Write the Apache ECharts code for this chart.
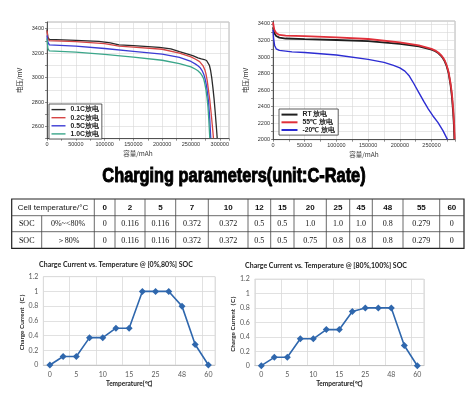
<!DOCTYPE html>
<html><head><meta charset="utf-8">
<script src="https://cdn.jsdelivr.net/npm/echarts@6/dist/echarts.min.js"></script>
<style>html,body{margin:0;padding:0;background:#fff}#c{width:466px;height:395px}</style>
</head><body><div id="c"></div>
<script>
// ---------- DATA ----------
// Top-left: discharge at different C-rates (capacity mAh, voltage mV)
const rateNames = ['0.1C放电', '0.2C放电', '0.5C放电', '1.0C放电'];
const cap01C  = [0, 1500, 4000, 50000, 90000, 110000, 125000, 150000, 195000, 215000, 230000, 253000, 262000, 268000, 273000, 277000, 280000, 282000, 284000, 286000, 288000, 290000, 292000, 294000, 295500];
const volt01C = [3395, 3330, 3312, 3305, 3296, 3285, 3268, 3262, 3248, 3235, 3213, 3180, 3162, 3153, 3148, 3140, 3125, 3100, 3060, 3000, 2920, 2830, 2720, 2600, 2505];
const cap02C  = [0, 1500, 4000, 50000, 100000, 125000, 150000, 200000, 230000, 250000, 258000, 265000, 268000, 271000, 274000, 276000, 278000, 280000, 282600, 285000, 287200, 289000];
const volt02C = [3385, 3320, 3303, 3295, 3278, 3258, 3250, 3232, 3200, 3170, 3150, 3131, 3115, 3096, 3065, 3030, 2981, 2910, 2818, 2710, 2600, 2505];
const cap05C  = [0, 1500, 4000, 50000, 100000, 150000, 200000, 230000, 250000, 258000, 262000, 266000, 269000, 272000, 274500, 277000, 279000, 280500, 282500, 284300];
const volt05C = [3345, 3290, 3268, 3258, 3238, 3215, 3192, 3165, 3132, 3110, 3097, 3080, 3060, 3030, 2990, 2930, 2860, 2800, 2670, 2505];
const cap10C  = [0, 1500, 4000, 50000, 100000, 150000, 200000, 230000, 250000, 258000, 262000, 266000, 269000, 272000, 274000, 276000, 278000, 279500, 281000, 282600];
const volt10C = [3320, 3240, 3218, 3208, 3190, 3168, 3142, 3115, 3088, 3068, 3056, 3038, 3018, 2990, 2950, 2900, 2830, 2760, 2650, 2505];

// Top-right: discharge at different temperatures
const tempNames = ['RT 放电', '55℃ 放电', '-20℃ 放电'];
const capRT   = [0, 2000, 5000, 10000, 20000, 50000, 100000, 150000, 200000, 230000, 250000, 256000, 261000, 265000, 268000, 271000, 274000, 277000, 280000, 282000, 284000, 285300, 286000];
const voltRT  = [3360, 3290, 3255, 3235, 3224, 3217, 3206, 3193, 3160, 3130, 3090, 3070, 3045, 3015, 2985, 2945, 2885, 2800, 2660, 2530, 2340, 2170, 2005];
const cap55   = [0, 2000, 5000, 10000, 20000, 50000, 100000, 150000, 200000, 230000, 250000, 256000, 261000, 265000, 268000, 271000, 274000, 277000, 280000, 282200, 284300, 285700, 286500];
const volt55  = [3420, 3330, 3290, 3267, 3260, 3254, 3238, 3218, 3178, 3140, 3098, 3078, 3052, 3024, 2994, 2955, 2898, 2815, 2680, 2550, 2360, 2180, 2005];
const capM20  = [0, 1000, 2500, 5000, 10000, 30000, 50000, 100000, 150000, 175000, 190000, 200000, 208000, 215000, 222000, 230000, 238000, 245000, 252000, 260000, 268000, 275000];
const voltM20 = [3330, 3220, 3140, 3100, 3080, 3062, 3055, 3024, 2972, 2935, 2900, 2868, 2830, 2770, 2680, 2570, 2460, 2370, 2290, 2210, 2110, 2004];

// Charging parameters (C-rate) by cell temperature
const tempLabels = ['0', '2', '5', '7', '10', '12', '15', '20', '25', '45', '48', '55', '60'];
const currentLowSoc  = [0, 0.116, 0.116, 0.372, 0.372, 0.5, 0.5, 1.0, 1.0, 1.0, 0.8, 0.279, 0];
const currentHighSoc = [0, 0.116, 0.116, 0.372, 0.372, 0.5, 0.5, 0.75, 0.8, 0.8, 0.8, 0.279, 0];
const tableHeader = 'Cell temperature/°C';
const socLabel = 'SOC';
const socLowRange = '0%~<80%';
const socHighRange = '＞80%';
const mainTitle = 'Charging parameters(unit:C-Rate)';
const lowTitle = 'Charge Current vs. Temperature @ [0%,80%] SOC';
const highTitle = 'Charge Current vs. Temperature @ [80%,100%] SOC';

// ---------- LAYOUT ----------
const colX = [11.7, 94.3, 115, 145, 175.7, 208.3, 248, 270.7, 294, 326.3, 349.7, 372.3, 403, 439.7, 464];
const rowY = [199, 215.7, 231.7, 248.3];
const socSplitX = 41.7;

function zip(xs, ys) { return xs.map((x, i) => [x, ys[i]]); }
function fmt(v) { return v === 0 ? '0' : (Number.isInteger(v) ? v.toFixed(1) : String(v)); }

const chart = echarts.init(document.getElementById('c'), null, { renderer: 'canvas' });

const topAxisLabel = { fontSize: 5.5, color: '#333', fontFamily: 'Liberation Sans', margin: 3 };
const gridLine = { show: true, lineStyle: { color: '#d6d6d6', width: 0.6 } };
const darkAxis = { show: true, lineStyle: { color: '#444', width: 0.9 } };

function topX(grid, max) {
  return {
    gridIndex: grid, type: 'value', min: 0, max: max, interval: 25000,
    axisLine: darkAxis, axisTick: { show: true, length: 2, lineStyle: { color: '#444', width: 0.6 } },
    axisLabel: Object.assign({}, topAxisLabel, { formatter: v => (v % 50000 === 0 && v <= 300000) ? String(v) : '' }),
    splitLine: gridLine,
    name: '容量/mAh', nameLocation: 'middle', nameGap: 12,
    nameTextStyle: { fontSize: 6.5, color: '#333', fontFamily: 'Noto Sans CJK SC' }
  };
}
function topY(grid, min, max) {
  return {
    gridIndex: grid, type: 'value', min: min, max: max, interval: 100,
    axisLine: darkAxis, axisTick: { show: true, length: 2, lineStyle: { color: '#444', width: 0.6 } },
    axisLabel: Object.assign({}, topAxisLabel, { formatter: v => (v % 200 === 0) ? String(v) : '' }),
    splitLine: gridLine,
    name: '电压/mV', nameLocation: 'middle', nameGap: 24, nameRotate: 90,
    nameTextStyle: { fontSize: 6.5, color: '#333', fontFamily: 'Noto Sans CJK SC' }
  };
}
const botLabel = { fontSize: 7, color: '#595959', fontFamily: 'Lato' };
function botX(grid) {
  return {
    gridIndex: grid, type: 'category', data: tempLabels, boundaryGap: true,
    axisLine: { show: true, lineStyle: { color: '#bfbfbf', width: 0.8 } },
    axisTick: { show: false },
    axisLabel: Object.assign({}, botLabel, { interval: 1, margin: 6 }),
    splitLine: { show: true, interval: 1, lineStyle: { color: '#d9d9d9', width: 0.8 } },
    name: 'Temperature(℃)', nameLocation: 'middle', nameGap: 15,
    nameTextStyle: { fontSize: 6.5, fontWeight: 'bold', color: '#222', fontFamily: 'Lato' }
  };
}
function botY(grid) {
  return {
    gridIndex: grid, type: 'value', min: 0, max: 1.2, interval: 0.2,
    axisLine: { show: false }, axisTick: { show: false },
    axisLabel: Object.assign({}, botLabel, { margin: 5 }),
    splitLine: { show: true, lineStyle: { color: '#d9d9d9', width: 0.8 } },
    name: 'Charge Current（C）', nameLocation: 'middle', nameGap: 16, nameRotate: 90,
    nameTextStyle: { fontSize: 6.3, fontWeight: 'bold', color: '#222', fontFamily: 'Lato' }
  };
}

function lineSeries(name, xi, yi, xs, ys, color, width) {
  return {
    name: name, type: 'line', xAxisIndex: xi, yAxisIndex: yi, data: zip(xs, ys),
    showSymbol: false, symbol: 'none', smooth: false,
    lineStyle: { color: color, width: width }, itemStyle: { color: color }, animation: false
  };
}
function chargeSeries(xi, yi, vals) {
  return {
    type: 'line', xAxisIndex: xi, yAxisIndex: yi, data: vals,
    symbol: 'diamond', symbolSize: 7, color: '#2f67ad',
    lineStyle: { color: '#2f67ad', width: 1.6 }, itemStyle: { color: '#2f67ad' }, animation: false
  };
}

// Table graphics
const tableEls = [];
const lineColor = '#444';
tableEls.push({ type: 'rect', shape: { x: colX[0], y: rowY[0], width: colX[colX.length - 1] - colX[0], height: rowY[3] - rowY[0] },
  style: { fill: 'none', stroke: '#222', lineWidth: 1.2 } });
for (let r = 1; r < rowY.length - 1; r++) {
  tableEls.push({ type: 'line', shape: { x1: colX[0], y1: rowY[r], x2: colX[colX.length - 1], y2: rowY[r] }, style: { stroke: lineColor, lineWidth: 0.8 } });
}
for (let c = 1; c < colX.length - 1; c++) {
  tableEls.push({ type: 'line', shape: { x1: colX[c], y1: rowY[0], x2: colX[c], y2: rowY[3] }, style: { stroke: lineColor, lineWidth: 0.8 } });
}
tableEls.push({ type: 'line', shape: { x1: socSplitX, y1: rowY[1], x2: socSplitX, y2: rowY[3] }, style: { stroke: lineColor, lineWidth: 0.8 } });
function cellText(x1, x2, r, text, font) {
  tableEls.push({ type: 'text', x: (x1 + x2) / 2, y: (rowY[r] + rowY[r + 1]) / 2 + 0.5,
    style: { text: text, align: 'center', verticalAlign: 'middle', font: font, fill: '#111' } });
}
const headFont = '8px "Liberation Sans", sans-serif';
const headNumFont = 'bold 8px "Liberation Sans", sans-serif';
const bodyFont = '8px "Liberation Serif", serif';
cellText(colX[0], colX[1], 0, tableHeader, headFont);
cellText(colX[0], socSplitX, 1, socLabel, bodyFont);
cellText(socSplitX, colX[1], 1, socLowRange, bodyFont);
cellText(colX[0], socSplitX, 2, socLabel, bodyFont);
cellText(socSplitX, colX[1], 2, socHighRange, bodyFont);
tempLabels.forEach((t, i) => {
  cellText(colX[i + 1], colX[i + 2], 0, t, headNumFont);
  cellText(colX[i + 1], colX[i + 2], 1, fmt(currentLowSoc[i]), bodyFont);
  cellText(colX[i + 1], colX[i + 2], 2, fmt(currentHighSoc[i]), bodyFont);
});

const graphics = [
  { type: 'text', x: 234, y: 177, scaleX: 0.86, scaleY: 1.02, style: { text: mainTitle, align: 'center', verticalAlign: 'middle',
      font: 'bold 19px "Liberation Sans", sans-serif', fill: '#000', stroke: '#000', lineWidth: 0.9 } },
  { type: 'text', x: 116, y: 265, style: { text: lowTitle, align: 'center', verticalAlign: 'middle',
      font: 'bold 7px Lato, sans-serif', fill: '#222' } },
  { type: 'text', x: 326, y: 265.5, style: { text: highTitle, align: 'center', verticalAlign: 'middle',
      font: 'bold 7px Lato, sans-serif', fill: '#222' } },
  { type: 'group', children: tableEls }
];

const legendBase = {
  orient: 'vertical', padding: [2, 3, 1.5, 2.5], icon: 'rect',
  borderColor: '#333', borderWidth: 0.8, backgroundColor: '#fff',
  textStyle: { fontSize: 6.8, fontWeight: 'bold', color: '#222', lineHeight: 7.2, fontFamily: 'Liberation Sans' },
  selectedMode: false
};

chart.setOption({
  backgroundColor: '#fff',
  animation: false,
  grid: [
    { left: 47, top: 22, width: 182, height: 116.7, show: true, borderColor: '#888', borderWidth: 0.6 },
    { left: 273, top: 21, width: 182, height: 118.7, show: true, borderColor: '#888', borderWidth: 0.6 },
    { left: 43.3, top: 276.7, width: 171.7, height: 88.3, show: true, borderColor: '#d9d9d9', borderWidth: 0.8 },
    { left: 254.8, top: 279, width: 169, height: 86.7, show: true, borderColor: '#d9d9d9', borderWidth: 0.8 }
  ],
  xAxis: [topX(0, 316000), topX(1, 287000), botX(2), botX(3)],
  yAxis: [topY(0, 2500, 3455), topY(1, 2000, 3436), botY(2), botY(3)],
  legend: [
    Object.assign({}, legendBase, { data: rateNames, left: 49, top: 104, itemWidth: 14, itemHeight: 1.4, itemGap: 0.9, itemTextGap: 3 }),
    Object.assign({}, legendBase, { data: tempNames, left: 279, top: 109, itemWidth: 16, itemHeight: 2, itemGap: 0.5, itemTextGap: 3 })
  ],
  series: [
    lineSeries(rateNames[0], 0, 0, cap01C, volt01C, '#2a2a2a', 1.3),
    lineSeries(rateNames[1], 0, 0, cap02C, volt02C, '#d64545', 1.3),
    lineSeries(rateNames[2], 0, 0, cap05C, volt05C, '#3b3bd4', 1.3),
    lineSeries(rateNames[3], 0, 0, cap10C, volt10C, '#3aa68a', 1.3),
    lineSeries(tempNames[0], 1, 1, capRT, voltRT, '#1e1e1e', 1.8),
    lineSeries(tempNames[1], 1, 1, cap55, volt55, '#e0303a', 1.8),
    lineSeries(tempNames[2], 1, 1, capM20, voltM20, '#2c2cd2', 1.4),
    chargeSeries(2, 2, currentLowSoc),
    chargeSeries(3, 3, currentHighSoc)
  ],
  graphic: graphics
});
</script></body></html>
